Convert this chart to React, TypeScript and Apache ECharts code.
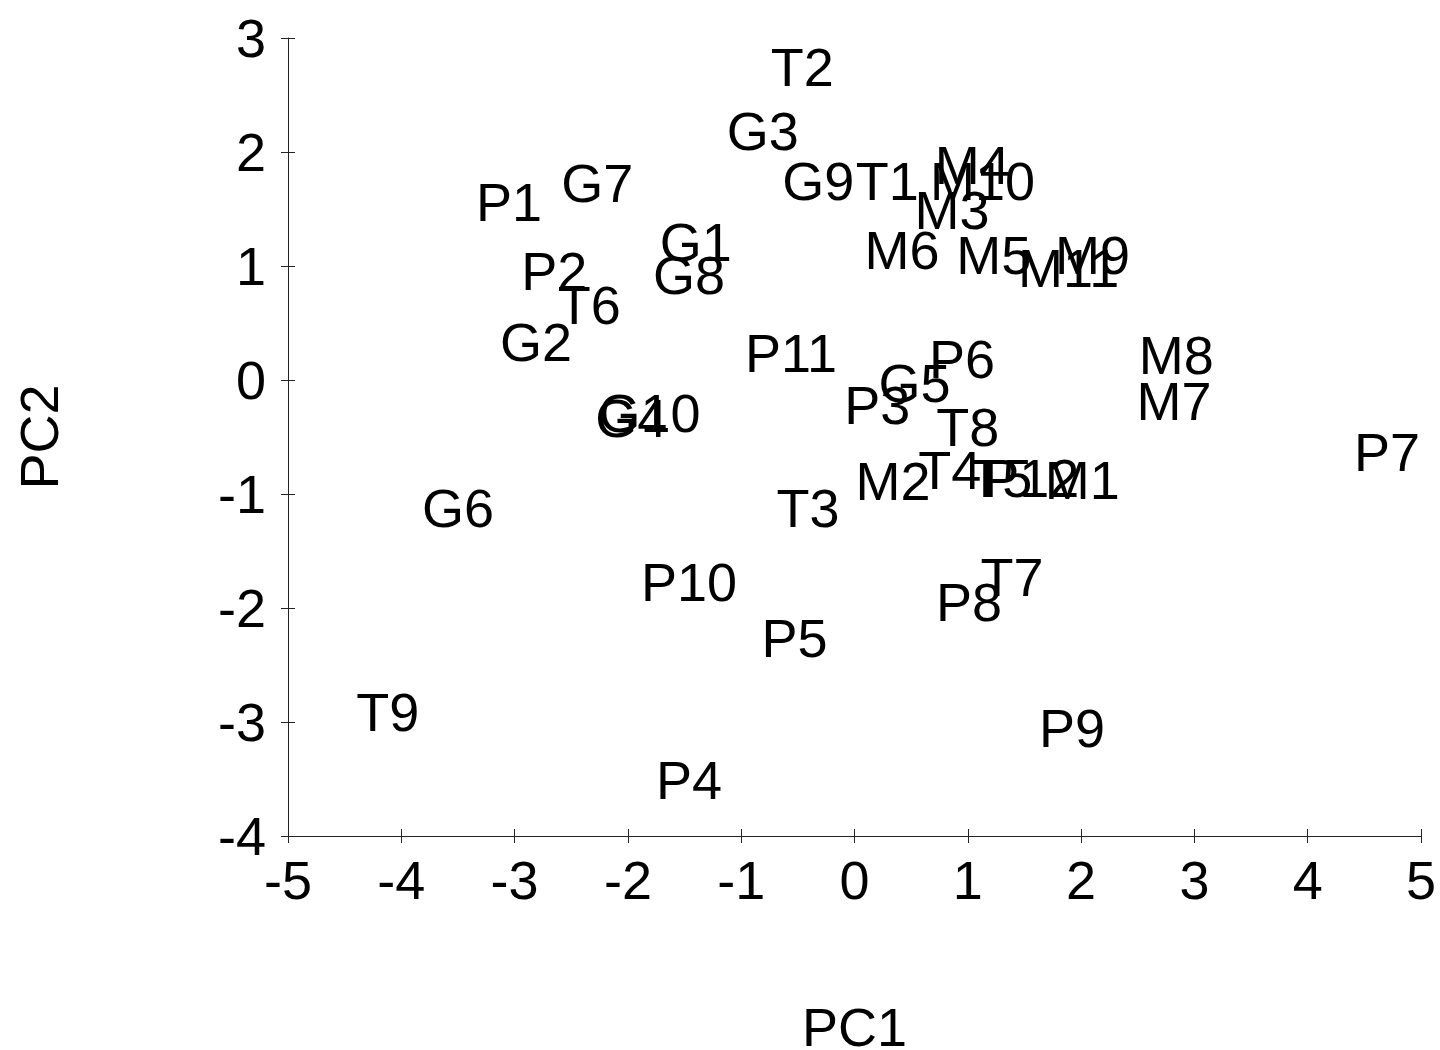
import React, { useEffect, useRef } from "react";
import * as echarts from "echarts";

const labels = [
  "T2", "G3", "G9", "T1", "M4", "M10", "M3", "M6", "M5", "M9", "M11",
  "P1", "G7", "G1", "G8", "P2", "T6", "G2", "P11", "P6", "G5", "P3",
  "T8", "M8", "M7", "P7", "G10", "G4", "M2", "T4", "T5", "P12", "M1",
  "G6", "T3", "P10", "T7", "P8", "P5", "T9", "P9", "P4",
];
const pc1 = [
  -0.46, -0.81, -0.32, 0.29, 1.04, 1.13, 0.86, 0.42, 1.23, 2.1, 1.89,
  -3.05, -2.27, -1.4, -1.46, -2.65, -2.34, -2.81, -0.56, 0.95, 0.53, 0.2,
  1.0, 2.84, 2.82, 4.7, -1.81, -1.97, 0.34, 0.84, 1.29, 1.56, 2.01,
  -3.5, -0.41, -1.46, 1.39, 1.01, -0.53, -4.12, 1.92, -1.46,
];
const pc2 = [
  2.75, 2.18, 1.75, 1.75, 1.89, 1.75, 1.49, 1.14, 1.1, 1.1, 0.98,
  1.56, 1.73, 1.21, 0.92, 0.96, 0.66, 0.33, 0.24, 0.18, -0.03, -0.22,
  -0.41, 0.22, -0.18, -0.63, -0.29, -0.33, -0.89, -0.79, -0.86, -0.86, -0.88,
  -1.12, -1.12, -1.77, -1.73, -1.95, -2.26, -2.91, -3.05, -3.51,
];

const FONT = "'Liberation Sans', Arial, sans-serif";

export default function App() {
  const ref = useRef<HTMLDivElement>(null);
  useEffect(() => {
    document.body.style.margin = "0";
    const chart = echarts.init(ref.current!, null, { renderer: "svg" });
    const data = labels.map((n, i) => ({ name: n, value: [pc1[i], pc2[i]] }));
    const axisLine = { show: true, onZero: false, lineStyle: { color: "#222", width: 1 } };
    chart.setOption({
      animation: false,
      backgroundColor: "#fff",
      grid: {
        left: 288,
        right: 19,
        top: 38,
        bottom: 214,
        containLabel: false,
        outerBoundsMode: "none",
      },
      xAxis: [
        {
          type: "value",
          min: -5,
          max: 5,
          interval: 1,
          name: "PC1",
          nameLocation: "middle",
          nameGap: 171,
          nameTextStyle: { fontFamily: FONT, fontSize: 54, lineHeight: 40, color: "#000" },
          axisLine,
          axisTick: { show: true, length: 7, lineStyle: { color: "#222" } },
          axisLabel: { fontFamily: FONT, fontSize: 54, color: "#000", margin: 17 },
          splitLine: { show: false },
        },
        {
          type: "value",
          position: "bottom",
          min: -5,
          max: 5,
          interval: 1,
          axisLine: { show: false, onZero: false },
          axisTick: { show: true, inside: true, length: 7, lineStyle: { color: "#222" } },
          axisLabel: { show: false },
          splitLine: { show: false },
        },
      ],
      yAxis: [
        {
          type: "value",
          min: -4,
          max: 3,
          interval: 1,
          name: "PC2",
          nameLocation: "middle",
          nameGap: 222,
          nameTextStyle: { fontFamily: FONT, fontSize: 54, color: "#000" },
          axisLine,
          axisTick: { show: true, length: 7, lineStyle: { color: "#222" } },
          axisLabel: { fontFamily: FONT, fontSize: 54, color: "#000", margin: 22 },
          splitLine: { show: false },
        },
        {
          type: "value",
          position: "left",
          min: -4,
          max: 3,
          interval: 1,
          axisLine: { show: false, onZero: false },
          axisTick: { show: true, inside: true, length: 7, lineStyle: { color: "#222" } },
          axisLabel: { show: false },
          splitLine: { show: false },
        },
      ],
      series: [
        {
          type: "scatter",
          xAxisIndex: 0,
          yAxisIndex: 0,
          data,
          symbolSize: 1,
          itemStyle: { color: "rgba(0,0,0,0)", opacity: 1 },
          label: {
            show: true,
            position: "inside",
            formatter: "{b}",
            fontFamily: FONT,
            fontSize: 54,
            color: "#000",
            opacity: 1,
          },
          emphasis: { disabled: true },
        },
      ],
    });
    return () => chart.dispose();
  }, []);
  return <div ref={ref} style={{ width: 1440, height: 1050 }} />;
}
